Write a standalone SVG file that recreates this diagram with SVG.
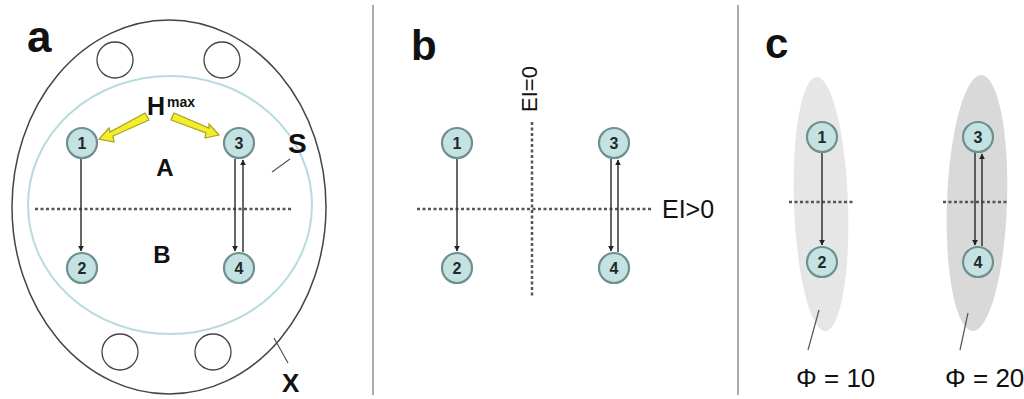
<svg xmlns="http://www.w3.org/2000/svg" width="1024" height="399" viewBox="0 0 1024 399">
<style>
.node circle{fill:#c4e2e2;stroke:#6f8f90;stroke-width:2.2}
.node text{font-family:"Liberation Sans",Arial,sans-serif;font-weight:bold;font-size:16px;fill:#1e2a2c;text-anchor:middle}
.lbl{font-family:"Liberation Sans",Arial,sans-serif;fill:#111}
.b{font-weight:bold}
.dot{stroke:#555;stroke-width:2.5;stroke-dasharray:3 2.5;fill:none}
.arr{stroke:#333;stroke-width:1.5;fill:none;marker-end:url(#ah)}
.thin{stroke:#555;stroke-width:1.2;fill:none}
.hole{fill:#fff;stroke:#444;stroke-width:1.3}
.yel{fill:#f2ef2a;stroke:#a8a020;stroke-width:1.2}
</style>
<defs>
<marker id="ah" viewBox="0 0 10 10" refX="9" refY="5" markerWidth="6" markerHeight="6" markerUnits="userSpaceOnUse" orient="auto">
<path d="M0,0 L10,5 L0,10 z" fill="#222"/>
</marker>
</defs>
<rect width="1024" height="399" fill="#fff"/>

<!-- separators -->
<line x1="373" y1="5" x2="373" y2="395" stroke="#aaa" stroke-width="2"/>
<line x1="738" y1="5" x2="738" y2="395" stroke="#aaa" stroke-width="2"/>

<!-- panel a -->
<g id="panel-a">
<ellipse cx="169" cy="207" rx="157" ry="187" fill="#fff" stroke="#444" stroke-width="1.5"/>
<ellipse cx="170" cy="205" rx="142" ry="129" fill="#fff" stroke="#b8dbe0" stroke-width="2"/>
<circle class="hole" cx="115" cy="60" r="18"/>
<circle class="hole" cx="222" cy="60" r="18"/>
<circle class="hole" cx="120" cy="352" r="18"/>
<circle class="hole" cx="213" cy="352" r="18"/>
<text class="lbl b" x="27" y="52" font-size="44">a</text>
<text class="lbl b" x="147" y="115" font-size="25">H</text>
<text class="lbl b" x="167" y="107" font-size="14">max</text>
<text class="lbl b" x="165" y="176" font-size="24" text-anchor="middle">A</text>
<text class="lbl b" x="162" y="263" font-size="24" text-anchor="middle">B</text>
<text class="lbl b" x="288" y="153" font-size="28">S</text>
<text class="lbl b" x="282" y="392" font-size="26">X</text>
<line class="thin" x1="272" y1="172" x2="290" y2="159"/>
<line class="thin" x1="274" y1="338" x2="288" y2="363"/>
<!-- yellow arrows -->
<polygon class="yel" points="145,113 149,120 113,136 114,142 99,139 109,128 110,132"/>
<polygon class="yel" points="174,113 171,120 206,133 205,138 219,135 209,124 209,128"/>
</g>
<line class="dot" x1="35" y1="209" x2="292" y2="209"/>

<!-- panel b -->
<g id="panel-b">
<text class="lbl b" x="411" y="60" font-size="42">b</text>
<line class="dot" x1="417" y1="209" x2="653" y2="209"/>
<line class="dot" x1="532" y1="122" x2="532" y2="298"/>
<text class="lbl" x="662" y="218" font-size="25">EI&gt;0</text>
<text class="lbl" font-size="22" transform="translate(537,112) rotate(-90)">EI=0</text>
</g>

<!-- panel c -->
<g id="panel-c">
<text class="lbl b" x="765" y="58" font-size="42">c</text>
<ellipse cx="821" cy="204" rx="27" ry="127" fill="#e6e6e6" transform="rotate(-2 821 204)"/>
<ellipse cx="977" cy="203" rx="30" ry="128" fill="#d9d9d9" transform="rotate(2 977 203)"/>
<line class="dot" x1="789" y1="202" x2="853" y2="202"/>
<line class="dot" x1="943" y1="202" x2="1008" y2="202"/>
<line class="thin" x1="819" y1="310" x2="808" y2="350"/>
<line class="thin" x1="968" y1="313" x2="960" y2="350"/>
<text class="lbl" x="796" y="387" font-size="26">Φ = 10</text>
<text class="lbl" x="945" y="387" font-size="26">Φ = 20</text>
</g>

<!-- connectors -->
<g id="connectors">
<line class="arr" x1="81" y1="159" x2="81" y2="251"/>
<line class="arr" x1="235" y1="159" x2="235" y2="251"/>
<line class="arr" x1="243" y1="252" x2="243" y2="160"/>
<line class="arr" x1="457" y1="159" x2="457" y2="251"/>
<line class="arr" x1="611" y1="159" x2="611" y2="251"/>
<line class="arr" x1="618" y1="252" x2="618" y2="160"/>
<line class="arr" x1="822" y1="153" x2="822" y2="245"/>
<line class="arr" x1="975" y1="153" x2="975" y2="245"/>
<line class="arr" x1="982" y1="246" x2="982" y2="154"/>
</g>

<!-- nodes -->
<g id="a1" class="node"><circle cx="82" cy="143" r="15"/><text x="82" y="149">1</text></g>
<g id="a2" class="node"><circle cx="82" cy="268" r="15"/><text x="82" y="274">2</text></g>
<g id="a3" class="node"><circle cx="239" cy="143" r="15"/><text x="239" y="149">3</text></g>
<g id="a4" class="node"><circle cx="239" cy="268" r="15"/><text x="239" y="274">4</text></g>
<g id="b1" class="node"><circle cx="457" cy="143" r="15"/><text x="457" y="149">1</text></g>
<g id="b2" class="node"><circle cx="457" cy="268" r="15"/><text x="457" y="274">2</text></g>
<g id="b3" class="node"><circle cx="614" cy="143" r="15"/><text x="614" y="149">3</text></g>
<g id="b4" class="node"><circle cx="614" cy="268" r="15"/><text x="614" y="274">4</text></g>
<g id="c1" class="node"><circle cx="822" cy="137" r="15"/><text x="822" y="143">1</text></g>
<g id="c2" class="node"><circle cx="822" cy="262" r="15"/><text x="822" y="268">2</text></g>
<g id="c3" class="node"><circle cx="978" cy="137" r="15"/><text x="978" y="143">3</text></g>
<g id="c4" class="node"><circle cx="978" cy="262" r="15"/><text x="978" y="268">4</text></g>
</svg>
